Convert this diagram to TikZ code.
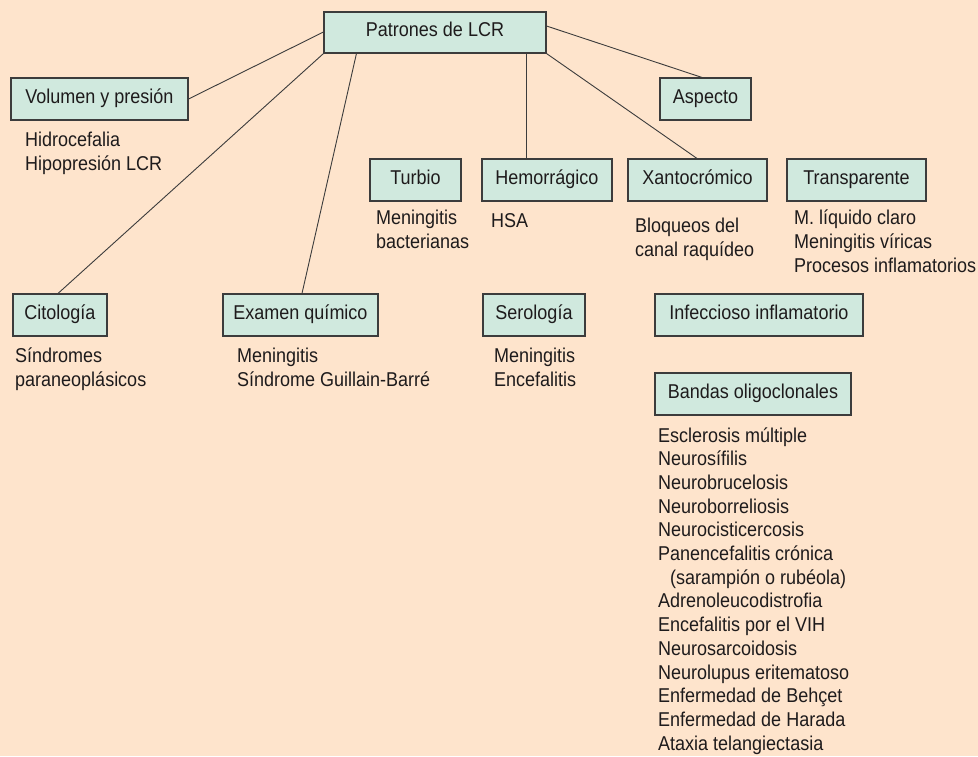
\documentclass[tikz,border=0pt]{standalone}
\usepackage{fontspec}
\setmainfont{Liberation Sans}[FakeStretch=0.9]
\definecolor{bg}{RGB}{254,228,204}
\definecolor{boxfill}{RGB}{208,233,222}
\definecolor{ink}{RGB}{30,27,28}
\definecolor{edge}{RGB}{60,60,60}
\tikzset{
  cbox/.style={draw=edge, fill=boxfill, line width=1.1pt, inner sep=0pt, text=ink,
    text height=14pt, text depth=6pt, font=\fontsize{20}{24}\selectfont},
  lst/.style={anchor=base west, inner sep=0pt, text=ink, font=\fontsize{20}{24}\selectfont},
  link/.style={draw=edge, line width=0.9pt}
}
\newcommand\mybox[6]{%
  \node[cbox, minimum width={#4-#2}, minimum height={#5-#3}] (#1) at ({(#2+#4)/2},{(#3+#5)/2}) {#6};}
\begin{document}
\begin{tikzpicture}[x=1pt,y=-1pt]
\fill[bg] (0,0) rectangle (978,756);
\useasboundingbox (0,0) rectangle (978,756);

% boxes
\mybox{pat}{324}{12}{546}{53}{Patrones de LCR}
\mybox{vol}{11}{78}{188}{120}{Volumen y presión}
\mybox{asp}{660}{78}{751}{120}{Aspecto}
\mybox{tur}{370}{159}{461}{201}{Turbio}
\mybox{hem}{482}{159}{612}{201}{Hemorrágico}
\mybox{xan}{628}{159}{767}{201}{Xantocrómico}
\mybox{tra}{787}{159}{926}{201}{Transparente}
\mybox{cit}{13}{294}{107}{336}{Citología}
\mybox{exa}{223}{294}{378}{336}{Examen químico}
\mybox{ser}{483}{294}{585}{336}{Serología}
\mybox{inf}{655}{294}{863}{336}{Infeccioso inflamatorio}
\mybox{ban}{655}{373}{851}{415}{Bandas oligoclonales}

% connectors
\draw[link] ([yshift=0.5pt]pat.west) -- (vol.east);
\draw[link] (pat.south west) -- ([xshift=-2pt]cit.north);
\draw[link] ([xshift=33pt]pat.south west) -- ([xshift=1.5pt]exa.north);
\draw[link] ([xshift=-20pt]pat.south east) -- ([xshift=-20pt]pat.south east |- hem.north);
\draw[link] (pat.south east) -- ([xshift=-0.5pt]xan.north);
\draw[link] ([yshift=6.5pt]pat.east) -- ([xshift=-3.5pt]asp.north);

% lists
\foreach \t [count=\i from 0] in {Hidrocefalia, Hipopresión LCR}
  \node[lst] (vl\i) at (25,{146+24*\i}) {\t};
\foreach \t [count=\i from 0] in {Meningitis, bacterianas}
  \node[lst] (tl\i) at (376,{224+24*\i}) {\t};
\node[lst] (hl0) at (491,227) {HSA};
\foreach \t [count=\i from 0] in {Bloqueos del, canal raquídeo}
  \node[lst] (xl\i) at (635,{232+24*\i}) {\t};
\foreach \t [count=\i from 0] in {M. líquido claro, Meningitis víricas, Procesos inflamatorios}
  \node[lst] (rl\i) at (794,{224+24*\i}) {\t};
\foreach \t [count=\i from 0] in {Síndromes, paraneoplásicos}
  \node[lst] (cl\i) at (15,{362+24*\i}) {\t};
\foreach \t [count=\i from 0] in {Meningitis, Síndrome Guillain-Barré}
  \node[lst] (el\i) at (237,{362+24*\i}) {\t};
\foreach \t [count=\i from 0] in {Meningitis, Encefalitis}
  \node[lst] (sl\i) at (494,{362+24*\i}) {\t};
\foreach \t [count=\i from 0] in {Esclerosis múltiple, Neurosífilis, Neurobrucelosis,
  Neuroborreliosis, Neurocisticercosis, Panencefalitis crónica,
  {\hspace*{12pt}(sarampión o rubéola)}, Adrenoleucodistrofia, Encefalitis por el VIH,
  Neurosarcoidosis, Neurolupus eritematoso, Enfermedad de Behçet,
  Enfermedad de Harada, Ataxia telangiectasia}
  \node[lst] (bl\i) at (658,{442+23.7*\i}) {\t};
\end{tikzpicture}
\end{document}
